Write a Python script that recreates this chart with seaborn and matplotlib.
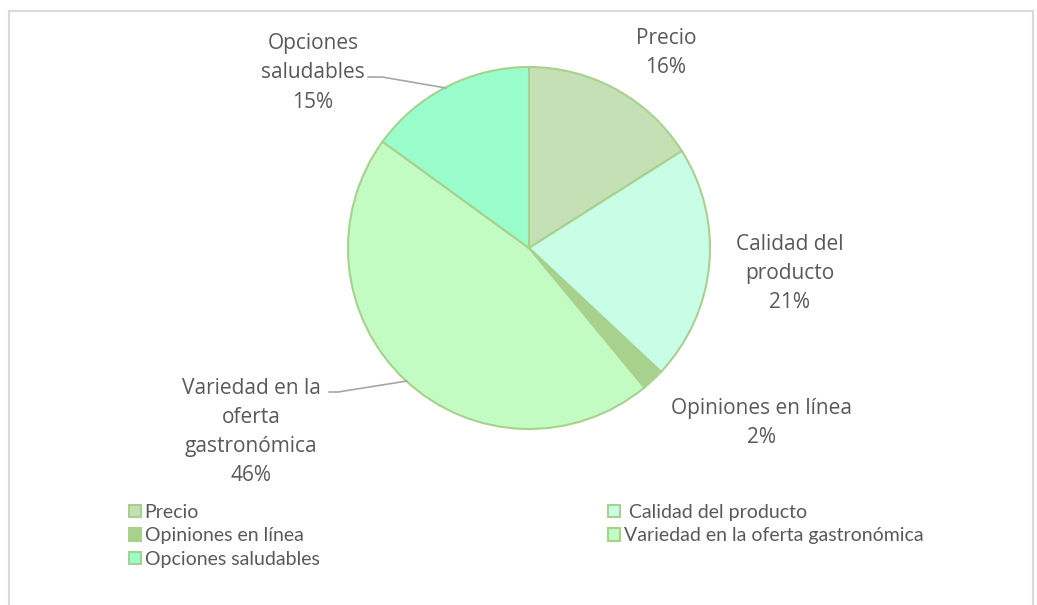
import matplotlib
matplotlib.use("Agg")
import matplotlib.pyplot as plt
import matplotlib.patches as mpatches
import seaborn as sns

categories = ["Precio", " Calidad del producto", "Opiniones en línea",
              "Variedad en la oferta gastronómica", "Opciones saludables"]
values = [16, 21, 2, 46, 15]
label_texts = ["Precio", "Calidad del\nproducto", "Opiniones en línea",
               "Variedad en la\noferta\ngastronómica", "Opciones\nsaludables"]
colors = ["#C5E0B4", "#C8FDE6", "#A9D18E", "#C3FCC3", "#99FECB"]
edge = "#A9D18E"

sns.set_theme(style="white")
plt.rcParams['font.family'] = ['Open Sans', 'DejaVu Sans']

W, H = 1037, 605
fig = plt.figure(figsize=(W / 100, H / 100), dpi=100)

# chart border (cut by page)
border = mpatches.Rectangle((9 / W, -0.1), (1033 - 9) / W, (H - 11) / H + 0.1,
                            transform=fig.transFigure, fill=False,
                            edgecolor="#D9D9D9", linewidth=1.5)
fig.patches.append(border)

cx, cy, R = 529, 248, 181
ax = fig.add_axes([(cx - R) / W, (H - cy - R) / H, 2 * R / W, 2 * R / H])
ax.pie(values, colors=colors, startangle=90, counterclock=False,
       wedgeprops=dict(edgecolor=edge, linewidth=1.5))
ax.set_xlim(-1, 1)
ax.set_ylim(-1, 1)
ax.set_aspect("auto")
ax.axis("off")


def d(px, py):
    return (px - cx) / R, (cy - py) / R


label_pos = [(666, 53), (790, 274), (762, 423), (251, 432), (313, 73)]
for txt, v, (px, py) in zip(label_texts, values, label_pos):
    x, y = d(px, py)
    ax.text(x, y, f"{txt}\n{v:.0f}%", ha="center", va="center",
            fontsize=15, color="#595959", linespacing=1.5,
            clip_on=False)

# leader lines
lc = "#A6A6A6"
for pts in [[(368, 77), (382, 77), (446, 88)],
            [(329, 392), (338, 392), (407, 381)]]:
    xs, ys = zip(*[d(p, q) for p, q in pts])
    ax.plot(xs, ys, color=lc, linewidth=1.2, clip_on=False)

handles = [mpatches.Patch(facecolor=c, edgecolor=edge, linewidth=1.5, label=l)
           for c, l in zip(colors, categories)]
leg_kw = dict(frameon=False, handlelength=0.6, handleheight=0.6,
              handletextpad=0.2, labelspacing=0.33, borderaxespad=0,
              borderpad=0, labelcolor="#595959",
              prop={'family': ['Lato', 'DejaVu Sans'], 'size': 14})
l1 = fig.legend(handles=[handles[0], handles[2], handles[4]],
                loc="upper left", bbox_to_anchor=(129 / W, 1 - 504 / H), **leg_kw)
l2 = fig.legend(handles=[handles[1], handles[3]],
                loc="upper left", bbox_to_anchor=(608 / W, 1 - 504 / H), **leg_kw)

fig.savefig("out.png", dpi=100, facecolor="white")
